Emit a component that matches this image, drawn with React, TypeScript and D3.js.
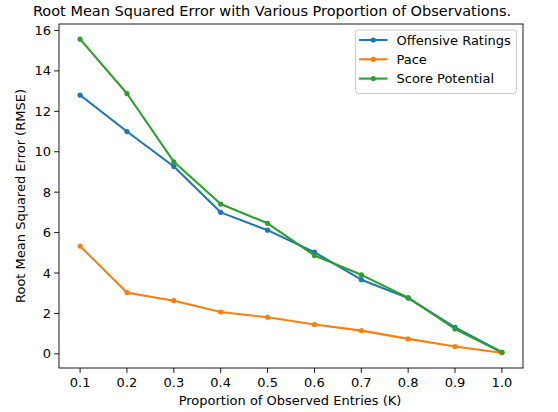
import React from "react";
import * as d3 from "d3";

const proportions = [0.1, 0.2, 0.3, 0.4, 0.5, 0.6, 0.7, 0.8, 0.9, 1.0];
const offensiveRatings = [12.8, 11.0, 9.27, 7.0, 6.12, 5.03, 3.67, 2.76, 1.31, 0.08];
const pace = [5.33, 3.03, 2.63, 2.07, 1.81, 1.45, 1.15, 0.74, 0.36, 0.05];
const scorePotential = [15.57, 12.88, 9.5, 7.41, 6.46, 4.87, 3.91, 2.78, 1.23, 0.08];
const yTicks = [0, 2, 4, 6, 8, 10, 12, 14, 16];

const seriesList = [
  { name: "Offensive Ratings", values: offensiveRatings, color: "#1f77b4" },
  { name: "Pace", values: pace, color: "#ff7f0e" },
  { name: "Score Potential", values: scorePotential, color: "#2ca02c" },
];

const width = 558;
const height = 412;
const margin = { left: 59, right: 35, top: 24, bottom: 44 };
const font = "DejaVu Sans, sans-serif";
const labelSize = 13;

export default function App() {
  const x = d3
    .scaleLinear()
    .domain([0.055, 1.045])
    .range([margin.left, width - margin.right]);
  const y = d3
    .scaleLinear()
    .domain([-0.7, 16.32])
    .range([height - margin.bottom, margin.top]);

  const line = d3
    .line<number>()
    .x((d, i) => x(proportions[i]))
    .y((d) => y(d));

  const x0 = margin.left;
  const x1 = width - margin.right;
  const y0 = height - margin.bottom;
  const y1 = margin.top;

  return (
    <svg
      width={width}
      height={height}
      style={{ position: "absolute", left: 0, top: 0, background: "white" }}
      fontFamily={font}
    >
      <text x={272} y={16} textAnchor="middle" fontSize={14.5} fill="#000">
        Root Mean Squared Error with Various Proportion of Observations.
      </text>

      {/* series */}
      {seriesList.map((s) => (
        <g key={s.name}>
          <path d={line(s.values) || ""} fill="none" stroke={s.color} strokeWidth={2.1} strokeLinejoin="round" strokeLinecap="square" />
          {s.values.map((v, i) => (
            <circle key={i} cx={x(proportions[i])} cy={y(v)} r={2.6} fill={s.color} />
          ))}
        </g>
      ))}

      {/* frame */}
      <rect x={x0} y={y1} width={x1 - x0} height={y0 - y1} fill="none" stroke="#000" strokeWidth={0.9} />

      {/* x ticks */}
      {proportions.map((p) => (
        <g key={p} transform={`translate(${x(p)},${y0})`}>
          <line y2={4.9} stroke="#000" strokeWidth={0.9} />
          <text y={19} textAnchor="middle" fontSize={labelSize} fill="#000">
            {p.toFixed(1)}
          </text>
        </g>
      ))}

      {/* y ticks */}
      {yTicks.map((t) => (
        <g key={t} transform={`translate(${x0},${y(t)})`}>
          <line x2={-4.9} stroke="#000" strokeWidth={0.9} />
          <text x={-8} dy="0.35em" textAnchor="end" fontSize={labelSize} fill="#000">
            {t}
          </text>
        </g>
      ))}

      <text x={290} y={405} textAnchor="middle" fontSize={labelSize} fill="#000">
        Proportion of Observed Entries (K)
      </text>
      <text
        transform={`translate(25,${(y0 + y1) / 2}) rotate(-90)`}
        textAnchor="middle"
        fontSize={labelSize}
        fill="#000"
      >
        Root Mean Squared Error (RMSE)
      </text>

      {/* legend */}
      <rect x={355.5} y={30} width={161} height={63.5} rx={3} fill="white" fillOpacity={0.8} stroke="#ccc" strokeWidth={1} />
      {seriesList.map((s, i) => {
        const ly = 40 + i * 19.3;
        return (
          <g key={s.name}>
            <line x1={359} x2={387.5} y1={ly} y2={ly} stroke={s.color} strokeWidth={2.1} />
            <circle cx={373.3} cy={ly} r={2.6} fill={s.color} />
            <text x={396.5} y={ly} dy="0.35em" fontSize={labelSize} fill="#000">
              {s.name}
            </text>
          </g>
        );
      })}
    </svg>
  );
}
